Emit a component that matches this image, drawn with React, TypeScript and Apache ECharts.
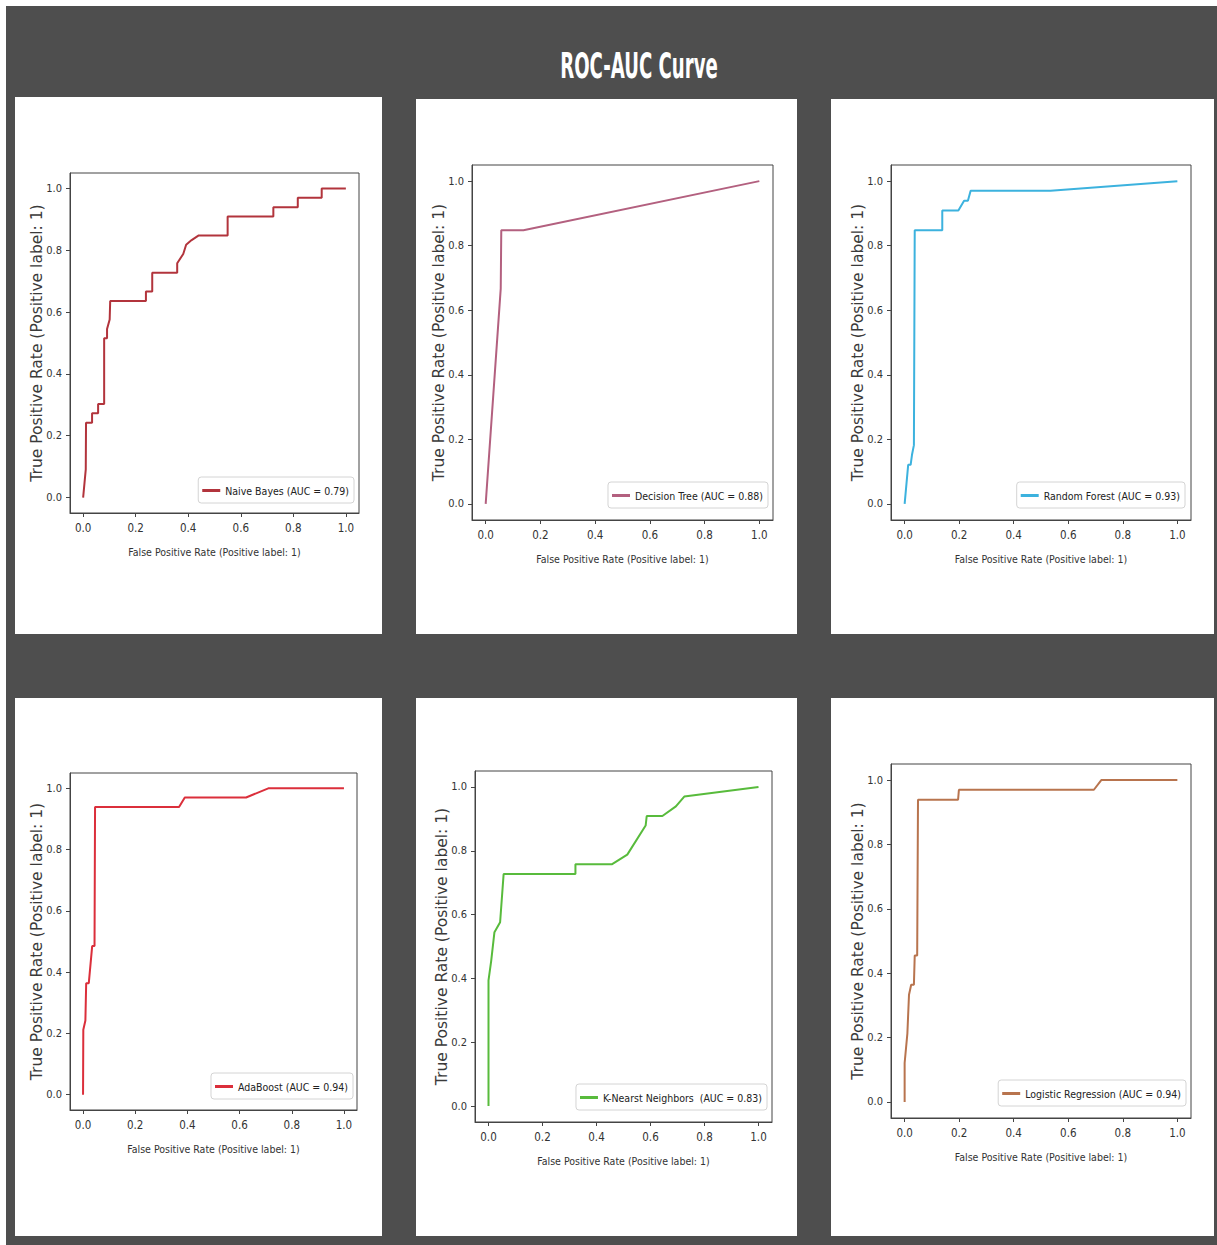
import React, { useEffect, useRef } from "react";
import * as echarts from "echarts";

const MODEL_NAMES = ["Naive Bayes", "Decision Tree", "Random Forest", "AdaBoost", "K-Nearst Neighbors ", "Logistic Regression"];
const AUC_VALUES = ["0.79", "0.88", "0.93", "0.94", "0.83", "0.94"];
const LINE_COLORS = ["#b2343c", "#b3607f", "#3cb2de", "#db2f3b", "#58bb3c", "#b8744e"];

const FPR_NB = [0, 0.010, 0.011, 0.034, 0.034, 0.057, 0.057, 0.080, 0.080, 0.091, 0.091, 0.101, 0.103, 0.239, 0.239, 0.263, 0.263, 0.358, 0.358, 0.381, 0.392, 0.413, 0.440, 0.550, 0.550, 0.724, 0.724, 0.817, 0.817, 0.908, 0.908, 1.0];
const TPR_NB = [0, 0.091, 0.242, 0.242, 0.273, 0.273, 0.303, 0.303, 0.515, 0.515, 0.545, 0.576, 0.636, 0.636, 0.667, 0.667, 0.727, 0.727, 0.758, 0.788, 0.818, 0.833, 0.848, 0.848, 0.909, 0.909, 0.939, 0.939, 0.970, 0.970, 1.0, 1.0];

const FPR_DT = [0, 0.055, 0.057, 0.138, 1.0];
const TPR_DT = [0, 0.667, 0.848, 0.848, 1.0];

const FPR_RF = [0, 0.013, 0.022, 0.027, 0.034, 0.037, 0.138, 0.138, 0.197, 0.218, 0.232, 0.242, 0.535, 1.0];
const TPR_RF = [0, 0.121, 0.121, 0.152, 0.182, 0.848, 0.848, 0.909, 0.909, 0.939, 0.939, 0.970, 0.970, 1.0];

const FPR_ADA = [0, 0.001, 0.009, 0.012, 0.022, 0.035, 0.044, 0.046, 0.368, 0.390, 0.625, 0.710, 1.0];
const TPR_ADA = [0, 0.212, 0.242, 0.364, 0.364, 0.485, 0.485, 0.939, 0.939, 0.970, 0.970, 1.0, 1.0];

const FPR_KNN = [0, 0.0, 0.010, 0.022, 0.043, 0.056, 0.322, 0.322, 0.458, 0.514, 0.582, 0.586, 0.644, 0.694, 0.725, 1.0];
const TPR_KNN = [0, 0.394, 0.455, 0.545, 0.576, 0.727, 0.727, 0.758, 0.758, 0.788, 0.879, 0.909, 0.909, 0.939, 0.970, 1.0];

const FPR_LR = [0, 0.0, 0.010, 0.016, 0.024, 0.034, 0.037, 0.046, 0.049, 0.196, 0.199, 0.694, 0.721, 1.0];
const TPR_LR = [0, 0.121, 0.212, 0.333, 0.364, 0.364, 0.455, 0.455, 0.939, 0.939, 0.970, 0.970, 1.0, 1.0];

const FPRS = [FPR_NB, FPR_DT, FPR_RF, FPR_ADA, FPR_KNN, FPR_LR];
const TPRS = [TPR_NB, TPR_DT, TPR_RF, TPR_ADA, TPR_KNN, TPR_LR];

const TICK_VALUES = [0, 0.2, 0.4, 0.6, 0.8, 1.0];
const X_TITLE = "False Positive Rate (Positive label: 1)";
const Y_TITLE = "True Positive Rate (Positive label: 1)";
const MAIN_TITLE = "ROC-AUC Curve";

// layout: panels (white cards) and plot frames
const PANELS = [
  [15, 97, 367, 537], [416, 99, 381, 535], [831, 99, 383, 535],
  [15, 698, 367, 538], [416, 698, 381, 538], [831, 698, 383, 538],
];
const FRAMES = [
  [70, 173, 289, 340], [472, 165, 301, 355], [891, 165, 300, 355],
  [70, 773, 287, 337], [475, 771, 297, 351], [891, 764, 300, 354],
];
const LEGEND_POS = [
  [863, 477], [449, 482], [32, 482],
  [864, 1073], [450, 1084], [31, 1080],
];

const NARROW = "'Liberation Sans Narrow', 'DejaVu Sans Condensed', 'Arial Narrow', sans-serif";

export default function App() {
  const ref = useRef<HTMLDivElement>(null);
  useEffect(() => {
    if (!ref.current) return;
    const chart = echarts.init(ref.current, null, { renderer: "svg" });
    const grids: any[] = [];
    const xAxes: any[] = [];
    const yAxes: any[] = [];
    const series: any[] = [];
    const legends: any[] = [];
    for (let i = 0; i < 6; i++) {
      const [l, t, w, h] = FRAMES[i];
      grids.push({ left: l, top: t, width: w, height: h, show: true, borderColor: "#444", borderWidth: 1, backgroundColor: "transparent", containLabel: false });
      const axisCommon = {
        gridIndex: i,
        type: "value",
        min: -0.05,
        max: 1.05,
        splitLine: { show: false },
        axisLine: { show: true, onZero: false, lineStyle: { color: "#444", width: 1 } },
        axisTick: { show: true, inside: false, length: 4, customValues: TICK_VALUES, lineStyle: { color: "#444" } },
      };
      xAxes.push({
        ...axisCommon,
        name: X_TITLE,
        nameLocation: "middle",
        nameGap: 33,
        nameMoveOverlap: false,
        nameTextStyle: { fontFamily: NARROW, fontSize: 10.5, color: "#333" },
        axisLabel: { customValues: TICK_VALUES, formatter: (v: number) => v.toFixed(1), fontFamily: NARROW, fontSize: 11.5, color: "#333", margin: 9 },
      });
      yAxes.push({
        ...axisCommon,
        name: Y_TITLE,
        nameLocation: "middle",
        nameRotate: 90,
        nameGap: 25,
        nameMoveOverlap: false,
        nameTextStyle: { fontFamily: "'DejaVu Sans', sans-serif", fontSize: 15.5, color: "#3a3a3a" },
        axisLabel: { customValues: TICK_VALUES, formatter: (v: number) => v.toFixed(1), fontFamily: NARROW, fontSize: 11, color: "#333", margin: 8 },
      });
      const name = `${MODEL_NAMES[i]} (AUC = ${AUC_VALUES[i]})`;
      series.push({
        type: "line",
        name,
        xAxisIndex: i,
        yAxisIndex: i,
        data: FPRS[i].map((x, k) => [x, TPRS[i][k]]),
        showSymbol: false,
        symbol: "none",
        lineStyle: { color: LINE_COLORS[i], width: 2 },
        itemStyle: { color: LINE_COLORS[i] },
        z: 3,
      });
      legends.push({
        data: [name],
        right: LEGEND_POS[i][0],
        top: LEGEND_POS[i][1],
        orient: "vertical",
        icon: "rect",
        itemWidth: 18,
        itemHeight: 3,
        padding: [8, 5, 7, 4],
        borderColor: "#d4d4d4",
        borderWidth: 1,
        borderRadius: 3,
        backgroundColor: "rgba(255,255,255,0.8)",
        textStyle: { fontFamily: NARROW, fontSize: 10.5, color: "#222" },
        selectedMode: false,
      });
    }
    const graphics: any[] = [
      { type: "rect", shape: { x: 6, y: 6, width: 1211, height: 1239 }, style: { fill: "#4e4e4e" }, z: -20, silent: true },
      ...PANELS.map(([x, y, w, h]) => ({ type: "rect", shape: { x, y, width: w, height: h }, style: { fill: "#ffffff" }, z: -10, silent: true })),
      {
        type: "text",
        x: 639,
        y: 66,
        scaleX: 0.56,
        z: 10,
        style: { text: MAIN_TITLE, fill: "#ffffff", font: `bold 36px ${NARROW}`, textAlign: "center", textVerticalAlign: "middle" },
      },
    ];
    chart.setOption({
      animation: false,
      backgroundColor: "#ffffff",
      grid: grids,
      xAxis: xAxes,
      yAxis: yAxes,
      series,
      legend: legends,
      graphic: { elements: graphics },
    });
    return () => chart.dispose();
  }, []);
  return <div ref={ref} style={{ position: "absolute", left: 0, top: 0, width: 1217, height: 1245 }} />;
}
